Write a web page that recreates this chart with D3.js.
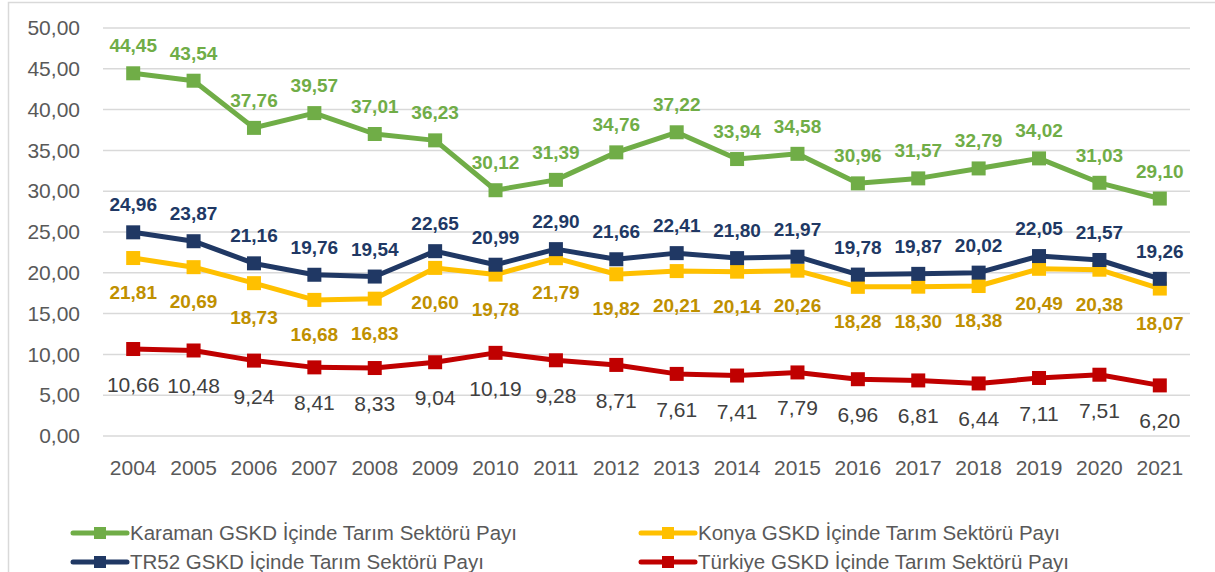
<!DOCTYPE html>
<html><head><meta charset="utf-8">
<script src="https://cdn.jsdelivr.net/npm/d3@7"></script>
<style>body{margin:0;background:#fff;} svg{display:block;}</style>
</head><body>
<svg id="chart" width="1215" height="572"></svg>
<script>
const years = ["2004","2005","2006","2007","2008","2009","2010","2011","2012","2013","2014","2015","2016","2017","2018","2019","2020","2021"];
const karaman = [44.45,43.54,37.76,39.57,37.01,36.23,30.12,31.39,34.76,37.22,33.94,34.58,30.96,31.57,32.79,34.02,31.03,29.10];
const konya = [21.81,20.69,18.73,16.68,16.83,20.60,19.78,21.79,19.82,20.21,20.14,20.26,18.28,18.30,18.38,20.49,20.38,18.07];
const tr52 = [24.96,23.87,21.16,19.76,19.54,22.65,20.99,22.90,21.66,22.41,21.80,21.97,19.78,19.87,20.02,22.05,21.57,19.26];
const turkiye = [10.66,10.48,9.24,8.41,8.33,9.04,10.19,9.28,8.71,7.61,7.41,7.79,6.96,6.81,6.44,7.11,7.51,6.20];
const yTicks = [0,5,10,15,20,25,30,35,40,45,50];
const seriesNames = ["Karaman GSKD İçinde Tarım Sektörü Payı","Konya GSKD İçinde Tarım Sektörü Payı","TR52 GSKD İçinde Tarım Sektörü Payı","Türkiye GSKD İçinde Tarım Sektörü Payı"];

const series = [
  {name: seriesNames[0], values: karaman, color:"#70AD47", label:"#70AD47", pos:"above", bold:true},
  {name: seriesNames[1], values: konya, color:"#FFC000", label:"#BF9000", pos:"below", bold:true},
  {name: seriesNames[2], values: tr52, color:"#203864", label:"#203864", pos:"above", bold:true},
  {name: seriesNames[3], values: turkiye, color:"#C00000", label:"#404040", pos:"below", bold:false}
];

const font = "'Liberation Sans', Arial, sans-serif";
const svg = d3.select("#chart");
svg.append("rect").attr("x",8.5).attr("y",2.5).attr("width",1240).attr("height",620)
  .attr("fill","#fff").attr("stroke","#D9D9D9").attr("stroke-width",1.5);

const x = d3.scaleBand().domain(years).range([103,1190]);
const y = d3.scaleLinear().domain([0,50]).range([436,28]);
const fmt = v => d3.format(".2f")(v).replace(".", ",");

// gridlines
svg.append("g").selectAll("line").data(yTicks).join("line")
  .attr("x1",103).attr("x2",1190).attr("y1",d=>y(d)).attr("y2",d=>y(d))
  .attr("stroke","#D9D9D9").attr("stroke-width",1.5);

// y axis
const yAxis = svg.append("g").attr("transform","translate(103,0)")
  .call(d3.axisLeft(y).tickValues(yTicks).tickSize(0).tickPadding(23).tickFormat(fmt));
yAxis.select(".domain").remove();
yAxis.selectAll("text").attr("font-family",font).attr("font-size",21).attr("fill","#595959");

// x axis
const xAxis = svg.append("g").attr("transform","translate(0,436)")
  .call(d3.axisBottom(x).tickSize(0).tickPadding(24));
xAxis.select(".domain").remove();
xAxis.selectAll("text").attr("font-family",font).attr("font-size",21).attr("fill","#595959");

const cx = (d,i) => x(years[i]) + x.bandwidth()/2;
const line = d3.line().x((d,i)=>cx(d,i)).y(d=>y(d));

series.forEach(s => {
  const g = svg.append("g");
  g.append("path").datum(s.values).attr("d",line).attr("fill","none")
    .attr("stroke",s.color).attr("stroke-width",5).attr("stroke-linejoin","round");
  g.selectAll("rect").data(s.values).join("rect")
    .attr("x",(d,i)=>cx(d,i)-7).attr("y",d=>y(d)-7).attr("width",14).attr("height",14)
    .attr("fill",s.color);
});
series.forEach(s => {
  svg.append("g").selectAll("text").data(s.values).join("text")
    .attr("x",(d,i)=>cx(d,i))
    .attr("y",d=> s.pos==="above" ? y(d)-21 : y(d) + (s.bold ? 41 : 43))
    .attr("text-anchor","middle")
    .attr("font-family",font).attr("font-size", s.bold ? 19 : 21)
    .attr("font-weight", s.bold ? "bold" : "normal")
    .attr("fill",s.label).text(d=>fmt(d));
});

// legend
const legendPos = [[73,533],[641,533],[73,562],[641,562]];
series.forEach((s,i) => {
  const [lx,ly] = legendPos[i];
  const g = svg.append("g").attr("transform",`translate(${lx},${ly})`);
  g.append("line").attr("x1",0).attr("x2",54).attr("y1",0).attr("y2",0)
    .attr("stroke",s.color).attr("stroke-width",5).attr("stroke-linecap","round");
  g.append("rect").attr("x",21).attr("y",-6).attr("width",12).attr("height",12).attr("fill",s.color);
  g.append("text").attr("x",57).attr("y",7).attr("font-family",font).attr("font-size",20.5)
    .attr("fill","#595959").text(s.name);
});
</script>
</body></html>
